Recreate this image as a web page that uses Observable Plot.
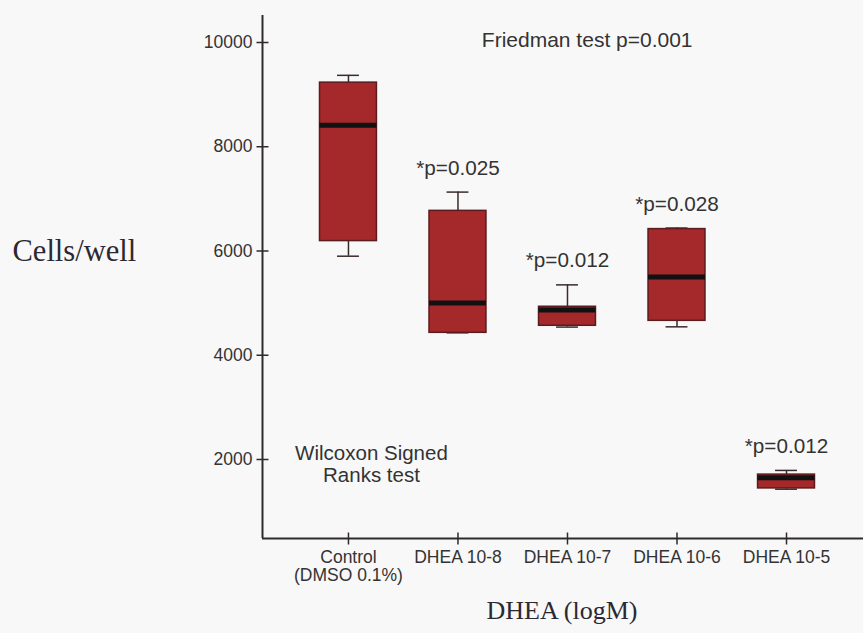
<!DOCTYPE html>
<html>
<head>
<meta charset="utf-8">
<script src="https://cdn.jsdelivr.net/npm/d3@7"></script>
<script src="https://cdn.jsdelivr.net/npm/@observablehq/plot@0.6"></script>
<style>
  html, body { margin: 0; padding: 0; background: #f8f8f8; }
  #chart { width: 863px; height: 633px; }
</style>
</head>
<body>
<div id="chart"></div>
<script>
// ---- data ----
const categories = ["Control\n(DMSO 0.1%)", "DHEA 10-8", "DHEA 10-7", "DHEA 10-6", "DHEA 10-5"];
const whiskerLow  = [5900, 4430, 4540, 4545, 1430];
const q1          = [6190, 4430, 4565, 4660, 1445];
const median      = [8410, 5000, 4870, 5500, 1650];
const q3          = [9230, 6770, 4930, 6420, 1710];
const whiskerHigh = [9370, 7130, 5350, 6440, 1790];
const pLabels     = ["", "*p=0.025", "*p=0.012", "*p=0.028", "*p=0.012"];
const yTicks      = [2000, 4000, 6000, 8000, 10000];

const boxes = categories.map((c, i) => ({
  i, c, lo: whiskerLow[i], q1: q1[i], med: median[i], q3: q3[i], hi: whiskerHigh[i], p: pLabels[i]
}));

const xDomain = [-0.785, 4.703];
const yDomain = [484, 10518];
const half = 0.26, cap = 0.1;

const tickSymbolV = { draw(ctx, size) { const r = Math.sqrt(size / Math.PI); ctx.moveTo(0, -r); ctx.lineTo(0, r); } };
const tickSymbolH = { draw(ctx, size) { const r = Math.sqrt(size / Math.PI); ctx.moveTo(-r, 0); ctx.lineTo(r, 0); } };

const fill = "#a5282a";
const edge = "#5a1c1e";
const ink = "#333";

const chart = Plot.plot({
  width: 863,
  height: 633,
  marginTop: 15,
  marginBottom: 95,
  marginLeft: 262,
  marginRight: 0,
  style: { fontFamily: "Arial, 'Liberation Sans', sans-serif", background: "transparent", color: ink },
  x: { domain: xDomain, axis: null },
  y: { domain: yDomain, axis: null },
  marks: [
    // axes lines
    Plot.ruleX([xDomain[0]], { stroke: "#2e2a2e", strokeWidth: 2 }),
    Plot.ruleY([yDomain[0]], { stroke: "#2e2a2e", strokeWidth: 2 }),
    // tick marks crossing the axes
    Plot.dot(yTicks, { x: () => xDomain[0], y: d => d, r: 6, symbol: tickSymbolH, stroke: "#2e2a2e", strokeWidth: 1.5, fill: "none" }),
    Plot.dot(boxes, { x: "i", y: () => yDomain[0], r: 6, symbol: tickSymbolV, stroke: "#2e2a2e", strokeWidth: 1.5, fill: "none" }),
    Plot.axisY({ ticks: yTicks, tickSize: 0, tickPadding: 10, fontSize: 17.5, tickFormat: d => String(d), label: null, fill: ink }),
    Plot.axisX({ ticks: [0, 1, 2, 3, 4], tickSize: 0, tickPadding: 11, fontSize: 17.5, lineHeight: 1.05, tickFormat: i => categories[i], label: null, fill: ink }),
    // whiskers
    Plot.ruleX(boxes, { x: "i", y1: "q3", y2: "hi", stroke: "#3a2a2a", strokeWidth: 1.5 }),
    Plot.ruleX(boxes, { x: "i", y1: "lo", y2: "q1", stroke: "#3a2a2a", strokeWidth: 1.5 }),
    Plot.ruleY(boxes, { y: "hi", x1: d => d.i - cap, x2: d => d.i + cap, stroke: "#3a2a2a", strokeWidth: 1.5 }),
    Plot.ruleY(boxes, { y: "lo", x1: d => d.i - cap, x2: d => d.i + cap, stroke: "#3a2a2a", strokeWidth: 1.5 }),
    // boxes
    Plot.rect(boxes, { x1: d => d.i - half, x2: d => d.i + half, y1: "q1", y2: "q3", fill, stroke: edge, strokeWidth: 1.5 }),
    // medians
    Plot.ruleY(boxes, { y: "med", x1: d => d.i - half, x2: d => d.i + half, stroke: "#111", strokeWidth: 5 }),
    // p-value labels
    Plot.text(boxes.filter(d => d.p), { x: "i", y: "hi", text: "p", dy: -24, fontSize: 20.7, fill: ink }),
    // annotations
    Plot.text(["Friedman test p=0.001"], { x: 2.18, y: 10040, fontSize: 21, fill: ink }),
    Plot.text(["Wilcoxon Signed\nRanks test"], { x: 0.21, y: 1920, fontSize: 20.5, lineHeight: 1.08, fill: ink }),
    // axis titles
    Plot.text(["Cells/well"], { frameAnchor: "left", dx: -250, dy: -26, textAnchor: "start", fontSize: 30.5, fontFamily: "'Liberation Serif', 'Times New Roman', serif", fill: "#2b2833" }),
    Plot.text(["DHEA (logM)"], { frameAnchor: "bottom", dx: -1, dy: 80, fontSize: 26, fontFamily: "'Liberation Serif', 'Times New Roman', serif", fill: "#2b2833" })
  ]
});

document.getElementById("chart").append(chart);
</script>
</body>
</html>
